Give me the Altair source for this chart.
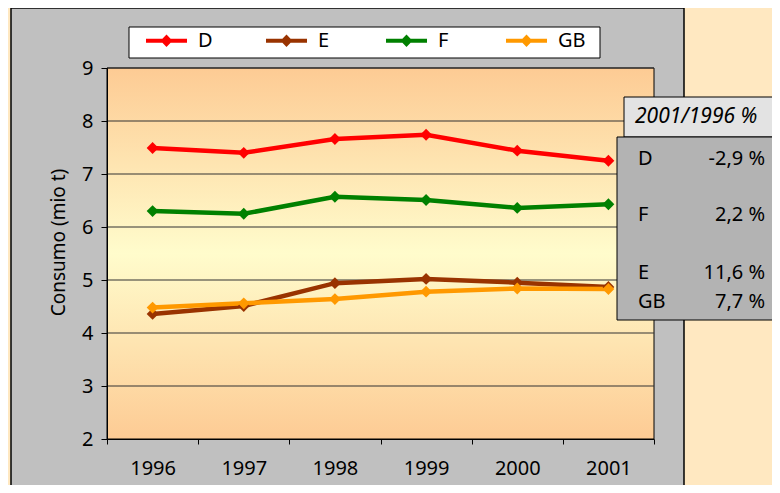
import altair as alt
import pandas as pd

# ---- data ----
years = ["1996", "1997", "1998", "1999", "2000", "2001"]
series = ["D", "E", "F", "GB"]
series_colors = ["#FF0000", "#993300", "#008000", "#FF9900"]
vals_D = [7.49, 7.40, 7.66, 7.74, 7.44, 7.25]
vals_E = [4.36, 4.51, 4.94, 5.02, 4.95, 4.87]
vals_F = [6.30, 6.25, 6.57, 6.51, 6.36, 6.43]
vals_GB = [4.48, 4.56, 4.64, 4.78, 4.84, 4.83]
y_ticks = [2, 3, 4, 5, 6, 7, 8, 9]
y_title = "Consumo (mio t)"
ann_title = "2001/1996 %"
ann_series = ["D", "F", "E", "GB"]
ann_values = ["-2,9 %", "2,2 %", "11,6 %", "7,7 %"]

all_vals = {"D": vals_D, "E": vals_E, "F": vals_F, "GB": vals_GB}
rows = []
for s in series:
    for y, v in zip(years, all_vals[s]):
        rows.append({"year": y, "series": s, "value": v})
df = pd.DataFrame(rows)

# ---- layout ----
W, H = 547, 371
FONT = "Noto Sans"
one = pd.DataFrame({"a": [0]})

yscale = alt.Scale(domain=[y_ticks[0], y_ticks[-1]], nice=False, zero=False)
xscale = alt.Scale(type="band", paddingInner=0, paddingOuter=0)
cscale = alt.Scale(domain=series, range=series_colors)

LEG_PATH = ("M-1,-0.1L-0.2,-0.1L0,-0.3L0.2,-0.1L1,-0.1L1,0.1L0.2,0.1"
            "L0,0.3L-0.2,0.1L-1,0.1Z")

y_axis = alt.Axis(values=y_ticks, title=y_title, grid=False,
                  labelFont=FONT, labelFontSize=20, labelColor="black",
                  domainColor="black", tickColor="black", tickSize=6,
                  labelPadding=8, titleFont=FONT, titleFontSize=19,
                  titleFontWeight="normal", titleColor="black",
                  titleAngle=-90, titleX=-49, titleY=174,
                  titleAlign="center", titleBaseline="middle", zindex=1)
y_enc = alt.Y("value:Q", scale=yscale, axis=y_axis, title=y_title)

legend = alt.Legend(orient="none", legendX=39, legendY=-48,
                    direction="horizontal", columns=4, title=None,
                    symbolType=LEG_PATH, symbolSize=1681,
                    symbolStrokeWidth=0, symbolOpacity=1,
                    labelFont=FONT, labelFontSize=20,
                    labelColor="black", labelOffset=11,
                    columnPadding=40, gridAlign="all", padding=0)
c_enc = alt.Color("series:N", scale=cscale, legend=legend)


def box(x, x2, y, y2, fill, sw=1):
    return alt.Chart(one).mark_rect(fill=fill, stroke="black", strokeWidth=sw).encode(
        x=alt.value(x), x2=alt.value(x2), y=alt.value(y), y2=alt.value(y2))


panel = box(-96, 577, -60, H + 60, "#C0C0C0", 1.5)
legend_box = box(22, 493, -41, -10, "white", 1)

grad = alt.Chart(one).mark_rect(
    color=alt.LinearGradient(
        gradient="linear", x1=0, x2=0, y1=0, y2=1,
        stops=[alt.GradientStop(color="#FDCB94", offset=0),
               alt.GradientStop(color="#FFFCCC", offset=0.5),
               alt.GradientStop(color="#FDCB94", offset=1)]),
    stroke="black", strokeWidth=1,
).encode(x=alt.value(0), x2=alt.value(W), y=alt.value(0), y2=alt.value(H))

grid = alt.Chart(pd.DataFrame({"value": y_ticks[1:]})).mark_rule(
    color="#333333", strokeWidth=1.2
).encode(y=y_enc, x=alt.value(0), x2=alt.value(W))

base = alt.Chart(df).encode(
    x=alt.X("year:O", scale=xscale, sort=years,
            axis=alt.Axis(title=None, tickBand="extent", labelAngle=0,
                          labelFont=FONT, labelFontSize=20, labelColor="black",
                          domainColor="black", tickColor="black", tickSize=5,
                          labelPadding=14, zindex=1)),
    y=y_enc,
    color=c_enc,
)

lines = base.mark_line(strokeWidth=4.5)
points = base.mark_point(filled=True, shape="diamond", size=140, opacity=1)

ann_head = box(517, 700, 29, 69, "#E3E3E3", 1)
ann_body = box(510, 700, 69, 252, "#B3B3B3", 1)
ann_head_text = alt.Chart(pd.DataFrame({"t": [ann_title]})).mark_text(
    font=FONT, fontSize=21, fontStyle="italic", align="left", baseline="middle",
    color="black").encode(text="t:N", x=alt.value(528), y=alt.value(49))

row_y = [91, 147, 205, 234]
ann_layers = []
for s, v, yy in zip(ann_series, ann_values, row_y):
    d = pd.DataFrame({"s": [s], "v": [v]})
    ann_layers.append(alt.Chart(d).mark_text(
        font=FONT, fontSize=20, align="left", baseline="middle", color="black"
    ).encode(text="s:N", x=alt.value(531), y=alt.value(yy)))
    ann_layers.append(alt.Chart(d).mark_text(
        font=FONT, fontSize=20, align="right", baseline="middle", color="black"
    ).encode(text="v:N", x=alt.value(658), y=alt.value(yy)))

chart = alt.layer(
    panel, legend_box, grad, grid, lines, points, ann_head, ann_body,
    ann_head_text, *ann_layers
).properties(
    width=W, height=H,
    autosize=alt.AutoSizeParams(type="none"),
    padding={"left": 99, "top": 60, "right": 118, "bottom": 46},
).configure(background="#FFE8C1").configure_view(stroke=None)

chart.save("out.html", embed_options={"renderer": "svg", "actions": False})
